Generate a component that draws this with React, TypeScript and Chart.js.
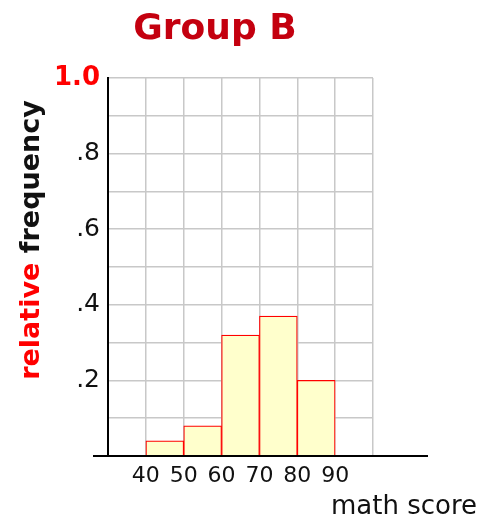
import React, { useEffect, useRef } from "react";
import { Chart, registerables } from "chart.js";

Chart.register(...registerables);

const chartTitle = "Group B";
const xAxisTitle = "math score";
const yTitleRed = "relative";
const yTitleBlack = "frequency";
const binStarts = [40, 50, 60, 70, 80];
const binWidth = 10;
const relFreq = [0.04, 0.08, 0.32, 0.37, 0.2];
const xTickLabels = ["40", "50", "60", "70", "80", "90"];
const yTickLabels: Record<number, string> = { 2: ".2", 4: ".4", 6: ".6", 8: ".8", 10: "1.0" };

const FONT = "'DejaVu Sans', sans-serif";

const isTop = (c: any) => !!c && !!c.tick && Math.round(c.tick.value * 10) === 10;

const textPlugin = {
  id: "texts",
  afterDraw(chart: any) {
    const ctx = chart.ctx as CanvasRenderingContext2D;
    const area = chart.chartArea;
    ctx.save();
    // extended x axis line
    ctx.strokeStyle = "#000";
    ctx.lineWidth = 2;
    ctx.beginPath();
    ctx.moveTo(area.left - 15, area.bottom);
    ctx.lineTo(area.right + 55, area.bottom);
    ctx.stroke();

    // title
    ctx.font = `bold 36px ${FONT}`;
    ctx.fillStyle = "#c4000f";
    ctx.textAlign = "center";
    ctx.textBaseline = "alphabetic";
    ctx.fillText(chartTitle, 215, 39);

    // x title
    ctx.font = `26px ${FONT}`;
    ctx.fillStyle = "#111";
    ctx.textAlign = "right";
    ctx.fillText(xAxisTitle, 477, 514);

    // y title (two colors)
    ctx.font = `bold 27px ${FONT}`;
    const full = `${yTitleRed} ${yTitleBlack}`;
    const w = ctx.measureText(full).width;
    const wRed = ctx.measureText(`${yTitleRed} `).width;
    ctx.translate(39, 240);
    ctx.rotate(-Math.PI / 2);
    ctx.textAlign = "left";
    ctx.fillStyle = "#ff0000";
    ctx.fillText(yTitleRed, -w / 2, 0);
    ctx.fillStyle = "#111";
    ctx.fillText(yTitleBlack, -w / 2 + wRed, 0);
    ctx.restore();
  },
};

export default function App() {
  const ref = useRef<HTMLCanvasElement | null>(null);
  useEffect(() => {
    if (!ref.current) return;
    const chart = new Chart(ref.current, {
      type: "bar",
      data: {
        datasets: [
          {
            data: binStarts.map((s, i) => ({ x: s + binWidth / 2, y: relFreq[i] })),
            backgroundColor: "#ffffcc",
            borderColor: "#ff0000",
            borderWidth: 1.2,
            barPercentage: 1,
            categoryPercentage: 1,
          },
        ],
      },
      options: {
        animation: false,
        responsive: false,
        layout: { padding: { left: 0, right: 107, top: 78, bottom: 0 } },
        plugins: { legend: { display: false }, tooltip: { enabled: false }, title: { display: false } },
        scales: {
          x: {
            type: "linear",
            min: 30,
            max: 100,
            offset: false,
            afterFit: (s: any) => {
              s.height = 61;
            },
            grid: { offset: false, drawTicks: false, color: "#c8c8c8", lineWidth: 1.5 },
            border: { display: false },
            ticks: {
              stepSize: 10,
              padding: 7,
              autoSkip: false,
              maxRotation: 0,
              color: "#111",
              font: { family: FONT, size: 22 },
              callback: (v: any) => (xTickLabels.includes(String(v)) ? String(v) : ""),
            },
          },
          y: {
            min: 0,
            max: 1,
            afterFit: (s: any) => {
              s.width = 108;
            },
            grid: { drawTicks: false, color: "#c8c8c8", lineWidth: 1.5 },
            border: { display: true, color: "#000", width: 2 },
            ticks: {
              stepSize: 0.1,
              padding: 8,
              autoSkip: false,
              color: (c: any) => (isTop(c) ? "#ff0000" : "#111"),
              font: (c: any) =>
                isTop(c) ? { family: FONT, size: 26, weight: "bold" } : { family: FONT, size: 25 },
              callback: (v: any) => yTickLabels[Math.round(Number(v) * 10)] ?? "",
            },
          },
        },
      },
      plugins: [textPlugin],
    });
    return () => chart.destroy();
  }, []);
  return (
    <div style={{ position: "fixed", left: 0, top: 0, width: 480, height: 517, background: "#fff" }}>
      <canvas ref={ref} width={480} height={517} style={{ width: 480, height: 517 }} />
    </div>
  );
}
